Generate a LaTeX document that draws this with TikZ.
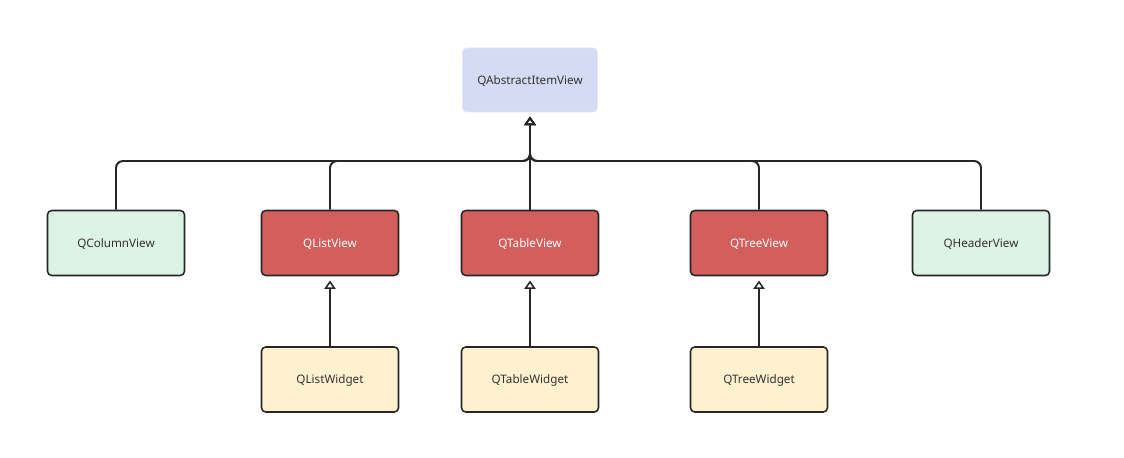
\documentclass[tikz,border=0pt]{standalone}
\usepackage{fontspec}
\setmainfont{Noto Sans}
\usetikzlibrary{arrows.meta}
\definecolor{viewblue}{HTML}{D6DBF4}
\definecolor{viewred}{HTML}{D35F5D}
\definecolor{viewgreen}{HTML}{DDF4E4}
\definecolor{widgetyellow}{HTML}{FEF1CF}

\begin{document}
\begin{tikzpicture}[x=0.025cm, y=-0.025cm,
  cls/.style={rectangle, draw=black!85, line width=1.1pt, rounded corners=3pt, minimum width=137*0.025cm, minimum height=65*0.025cm, font=\fontsize{8.3}{10}\selectfont, text=black!80, text depth=0pt, anchor=center},
  base/.style={cls, draw=viewblue!70!white, line width=0.6pt, fill=viewblue, minimum width=135*0.025cm, minimum height=64*0.025cm},
  mainview/.style={cls, fill=viewred, text=white},
  otherview/.style={cls, fill=viewgreen},
  widget/.style={cls, fill=widgetyellow},
  inherit/.style={draw=black!85, line width=1.4pt, rounded corners=5pt, shorten >=3pt, -{Triangle[open, length=6pt, width=8pt, line width=1.1pt]}}]
  \useasboundingbox (0,0) rectangle (1124,458);
  % classes
  \node[base] (abstract) at (530,80) {QAbstractItemView};
  \node[otherview] (colview) at (116,243) {QColumnView};
  \node[mainview] (listview) at (330,243) {QListView};
  \node[mainview] (tableview) at (530,243) {QTableView};
  \node[mainview] (treeview) at (759,243) {QTreeView};
  \node[otherview] (headview) at (981,243) {QHeaderView};
  \node[widget] (listwidget) at (330,379.5) {QListWidget};
  \node[widget] (tablewidget) at (530,379.5) {QTableWidget};
  \node[widget] (treewidget) at (759,379.5) {QTreeWidget};
  \coordinate (bus) at (530,161);
  % inheritance
  \draw[inherit] (colview.north) |- (bus) -- (abstract.south);
  \draw[inherit] (listview.north) |- (bus) -- (abstract.south);
  \draw[inherit] (treeview.north) |- (bus) -- (abstract.south);
  \draw[inherit] (headview.north) |- (bus) -- (abstract.south);
  \draw[inherit] (tableview.north) -- (abstract.south);
  \draw[inherit] (listwidget) -- (listview);
  \draw[inherit] (tablewidget) -- (tableview);
  \draw[inherit] (treewidget) -- (treeview);
\end{tikzpicture}
\end{document}
